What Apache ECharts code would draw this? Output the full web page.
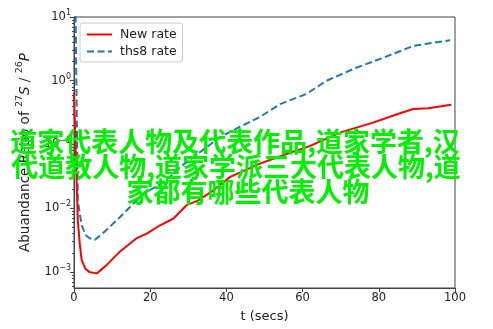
<!DOCTYPE html>
<html>
<head>
<meta charset="utf-8">
<script src="https://cdn.jsdelivr.net/npm/echarts@6/dist/echarts.min.js"></script>
<style>
html,body{margin:0;padding:0;background:#fff;}
#c{width:493px;height:329px;}
</style>
</head>
<body>
<div id="c"></div>
<script>
// ---- data ----
const redT = [0, 0.5, 1, 1.5, 2, 3, 4, 6, 8.6, 12.1, 16.5, 19.1, 22.6, 26.1, 29.6, 32.6, 36, 41, 48.8, 55.8, 62, 70, 78.5, 85, 89, 93, 99];
const redV = [0.65, 0.06, 0.0065, 0.0028, 0.00155, 0.00112, 0.001, 0.00095, 0.00129, 0.0021, 0.0034, 0.004, 0.0054, 0.0069, 0.0112, 0.0133, 0.018, 0.031, 0.05, 0.071, 0.095, 0.155, 0.22, 0.3, 0.36, 0.37, 0.42];
const blueT = [0, 1, 2, 3, 4, 5.5, 8.6, 12.1, 15.6, 19.1, 22.6, 25.2, 27.8, 33.1, 38.3, 43.6, 48.8, 54.1, 61, 66.3, 74.1, 81.2, 89, 92.6, 98.7];
const blueV = [1000, 0.013, 0.0055, 0.0038, 0.0034, 0.0032, 0.0046, 0.0073, 0.0118, 0.018, 0.024, 0.031, 0.044, 0.076, 0.13, 0.19, 0.27, 0.43, 0.62, 1.0, 1.6, 2.3, 3.5, 3.8, 4.3];
const seriesNames = ['New rate', 'ths8 rate'];
const xTicks = [0, 20, 40, 60, 80, 100];
const yMajor = [0.001, 0.01, 0.1, 1, 10];
const yMajorExp = ['\u22123', '\u22122', '\u22121', '0', '1'];
const yMinor = [6e-4, 7e-4, 8e-4, 9e-4,
  2e-3, 3e-3, 4e-3, 5e-3, 6e-3, 7e-3, 8e-3, 9e-3,
  2e-2, 3e-2, 4e-2, 5e-2, 6e-2, 7e-2, 8e-2, 9e-2,
  0.2, 0.3, 0.4, 0.5, 0.6, 0.7, 0.8, 0.9,
  2, 3, 4, 5, 6, 7, 8, 9];
const overlayLines = ['道家代表人物及代表作品,道家学者,汉', '代道教人物,道家学派三大代表人物,道', '家都有哪些代表人物'];

const pairs = (t, v) => t.map((x, i) => [x, v[i]]);
const FONT = 'DejaVu Sans';
const axisCol = '#444';

const chart = echarts.init(document.getElementById('c'), null, {renderer: 'canvas'});
chart.setOption({
  animation: false,
  backgroundColor: '#fff',
  grid: {left: 74, right: 38, top: 17, bottom: 41, show: true, borderColor: axisCol, borderWidth: 1, containLabel: false},
  legend: {
    left: 80, top: 23, orient: 'vertical',
    padding: [5, 6, 4, 6], itemGap: 4,
    itemWidth: 25, itemHeight: 14,
    itemStyle: {opacity: 0},
    borderColor: '#ccc', borderWidth: 1, borderRadius: 3, backgroundColor: '#fff',
    textStyle: {fontFamily: FONT, fontSize: 12.5, color: '#222', padding: [0, 0, 0, 3]},
    data: seriesNames
  },
  xAxis: {
    type: 'value', min: 0, max: 100, interval: 20,
    name: 't (secs)', nameLocation: 'middle', nameGap: 22,
    nameTextStyle: {fontFamily: FONT, fontSize: 13, color: '#222'},
    axisLine: {show: true, lineStyle: {color: axisCol, width: 1}},
    axisTick: {show: true, inside: false, length: 4, lineStyle: {color: axisCol}, customValues: xTicks},
    axisLabel: {fontFamily: FONT, fontSize: 11.5, color: '#222', margin: 4, customValues: xTicks},
    splitLine: {show: false}
  },
  yAxis: [{
    type: 'log', logBase: 10, min: 0.00056, max: 10,
    name: '{n|Abuandance Ratio of }{s|27}{i|S}{n| / }{s|26}{i|P}',
    nameLocation: 'middle', nameRotate: 90, nameGap: 39,
    nameTextStyle: {
      fontFamily: FONT, fontSize: 13.5, color: '#222',
      rich: {
        n: {fontFamily: FONT, fontSize: 13.5, lineHeight: 20, color: '#222'},
        i: {fontFamily: FONT, fontSize: 13.5, lineHeight: 20, fontStyle: 'italic', color: '#222'},
        s: {fontFamily: FONT, fontSize: 9.5, lineHeight: 11, verticalAlign: 'top', color: '#222'}
      }
    },
    axisLine: {show: true, lineStyle: {color: axisCol, width: 1}},
    axisTick: {show: true, inside: false, length: 4, lineStyle: {color: axisCol}, customValues: yMajor},
    axisLabel: {
      customValues: yMajor, margin: 3,
      formatter: (v) => {
        const k = yMajor.findIndex(m => Math.abs(Math.log10(m) - Math.log10(v)) < 1e-6);
        return '{b|10}{s|' + (k >= 0 ? yMajorExp[k] : '') + '}';
      },
      rich: {
        b: {fontFamily: FONT, fontSize: 11.5, lineHeight: 16, color: '#222'},
        s: {fontFamily: FONT, fontSize: 8, lineHeight: 9, verticalAlign: 'top', color: '#222'}
      }
    },
    splitLine: {show: false}
  }, {
    type: 'log', logBase: 10, min: 0.00056, max: 10, position: 'left',
    axisLine: {show: false},
    axisTick: {show: true, inside: false, length: 2, lineStyle: {color: axisCol}, customValues: yMinor},
    axisLabel: {show: false},
    splitLine: {show: false}
  }],
  series: [{
    name: seriesNames[0], type: 'line', yAxisIndex: 0,
    data: pairs(redT, redV), symbol: 'none', smooth: false, clip: true,
    lineStyle: {color: '#ff0000', width: 2}, itemStyle: {color: '#ff0000'}, z: 3
  }, {
    name: seriesNames[1], type: 'line', yAxisIndex: 0,
    data: pairs(blueT, blueV), symbol: 'none', smooth: false, clip: true,
    lineStyle: {color: '#1f77b4', width: 2, type: [7, 3.5]}, itemStyle: {color: '#1f77b4'}, z: 2
  }],
  graphic: overlayLines.map((txt, i) => ({
    type: 'text', z: 100, silent: true,
    x: [235, 236, 248][i], y: [142, 167, 192][i],
    style: {
      text: txt, fill: '#00f000', font: 'bold 27px "Noto Sans CJK SC"',
      textAlign: 'center', textVerticalAlign: 'middle'
    }
  }))
});
</script>
</body>
</html>
